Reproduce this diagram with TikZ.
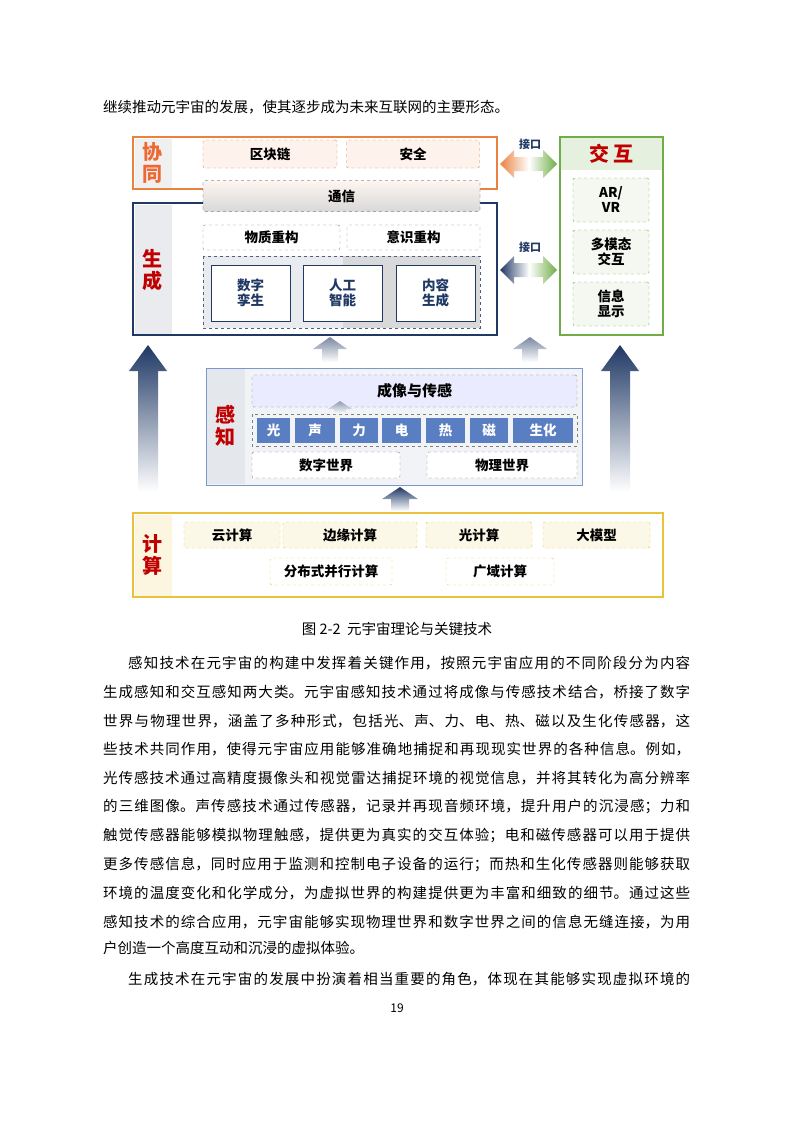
\documentclass[tikz,border=0pt]{standalone}
\usepackage{fontspec}
\setmainfont{Noto Sans CJK SC}
\XeTeXlinebreaklocale "zh"
\XeTeXlinebreakskip=0pt plus 3pt
\usetikzlibrary{positioning}
\definecolor{navy}{HTML}{1F3864}
\definecolor{orng}{HTML}{E9823F}
\definecolor{grn}{HTML}{70AD47}
\definecolor{gold}{HTML}{E8C23A}
\definecolor{cellblue}{HTML}{5A7EC2}
\definecolor{lblred}{HTML}{C00000}
% x, base y, half shaft, half head, head length, tip y, colour
\newcommand{\bigarrow}[7]{\shade[top color=#7, bottom color=white] (#1-#3,#2) -- (#1-#3,#6+#5) -- (#1-#4,#6+#5) -- (#1,#6) -- (#1+#4,#6+#5) -- (#1+#3,#6+#5) -- (#1+#3,#2) -- cycle;}
\tikzset{
  txt/.style={inner sep=0,font=\fontsize{14.5}{16}\selectfont},
  grp/.style={draw=#1,line width=1.4pt,fill=white},
  strip/.style={fill=#1,draw=none},
  glabel/.style={text=lblred,font=\fontsize{20}{22}\selectfont\bfseries,align=center},
  dbox/.style={draw=#1,dashed,rounded corners=2pt,inner sep=0,font=\fontsize{13.5}{15}\selectfont\bfseries,align=center},
  sbox/.style={draw=navy,line width=1pt,fill=white,inner sep=0,minimum width=79pt,minimum height=56pt,font=\fontsize{13.5}{15}\selectfont\bfseries,align=center,text=navy},
  cell/.style={fill=cellblue,inner sep=0,minimum height=25pt,text=white,font=\fontsize{13.5}{15}\selectfont\bfseries},
  klabel/.style={font=\fontsize{11}{12}\selectfont\bfseries,text=navy},
}
\begin{document}
\begin{tikzpicture}[x=1pt,y=-1pt]
\useasboundingbox (0,0) rectangle (793,1122);
\fill[white] (0,0) rectangle (793,1122);

% top text line
\node[txt,anchor=base west] (topline) at (103,112) {继续推动元宇宙的发展，使其逐步成为未来互联网的主要形态。};

% big arrows behind
\bigarrow{148}{492}{10}{19}{26}{345}{navy}
\bigarrow{620}{492}{10}{19}{26}{345}{navy}

% xie tong
\draw[grp=orng] (133,137) rectangle (497,189);
\fill[strip=gray!12] (134.5,138.5) rectangle (172,187.5);
\node[glabel,text=orng!80!red] (xt) at (152,163) {协\\同};
\node[dbox=orng,fill=orng!10,minimum width=134pt,minimum height=28pt] (qkl) at (270,154) {区块链};
\node[dbox=orng,fill=orng!10,minimum width=133pt,minimum height=28pt] (aq) at (413,154) {安全};

% sheng cheng
\draw[grp=navy] (133,203) rectangle (497,335);
\fill[strip=navy!10] (134.5,204.5) rectangle (172,333.5);
\node[glabel] (sc) at (152,270) {生\\成};
\node[dbox=navy,top color=orng!8,bottom color=gray!30,minimum width=277pt,minimum height=31pt] (tx) at (341.5,196) {通信};
\node[dbox=gray,fill=white,minimum width=137pt,minimum height=25pt] (wz) at (271.5,237.5) {物质重构};
\node[dbox=gray,fill=white,minimum width=133pt,minimum height=25pt] (ys) at (413.5,237.5) {意识重构};
\fill[navy!10] (203,256) rectangle (343,328);
\fill[gray!30] (343,256) rectangle (480,328);
\draw[dashed,navy!80] (203,256) rectangle (480,328);
\node[sbox] (szls) at (250.5,293) {数字\\孪生};
\node[sbox] (rgzn) at (342.5,293) {人工\\智能};
\node[sbox] (nrsc) at (435.5,293) {内容\\生成};

% jiao hu
\draw[grp=grn] (560,137) rectangle (663,335);
\fill[grn!18] (561,138) rectangle (662,170);
\node[glabel] (jh) at (611.5,154) {交\,互};
\node[dbox=grn,fill=grn!8,minimum width=76pt,minimum height=44pt] (arvr) at (611,200) {AR/\\VR};
\node[dbox=grn,fill=grn!8,minimum width=76pt,minimum height=44pt] (dmt) at (611,252) {多模态\\交互};
\node[dbox=grn,fill=grn!8,minimum width=76pt,minimum height=44pt] (xxxs) at (611,304) {信息\\显示};

% interfaces
\node[klabel] (jk1) at (530,144) {接口};
\node[klabel] (jk2) at (530,247) {接口};
\shade[left color=orng,right color=white] (500,164) -- (514,150) -- (514,157) -- (529,157) -- (529,171) -- (514,171) -- (514,178) -- cycle;
\shade[left color=white,right color=grn] (529,157) -- (543,157) -- (543,150) -- (557,164) -- (543,178) -- (543,171) -- (529,171) -- cycle;
\shade[left color=navy,right color=white] (500,270) -- (514,256) -- (514,263) -- (529,263) -- (529,277) -- (514,277) -- (514,284) -- cycle;
\shade[left color=white,right color=grn] (529,263) -- (543,263) -- (543,256) -- (557,270) -- (543,284) -- (543,277) -- (529,277) -- cycle;

% small arrows into sheng cheng
\bigarrow{330}{362}{8}{17}{12}{337}{navy!60}
\bigarrow{530}{362}{8}{17}{12}{337}{navy!60}

% gan zhi
\draw[draw=cellblue!80,line width=1pt,fill=navy!6] (206,368) rectangle (582,485);
\fill[strip=navy!12] (207,369) rectangle (245,484);
\node[glabel] (gz) at (225,426) {感\\知};
\node[dbox=gray,fill=blue!8,minimum width=325pt,minimum height=32pt,font=\fontsize{15}{16}\selectfont\bfseries] (cx) at (414.5,391) {成像与传感};
\draw[dashed,gray] (252,414) rectangle (577,446);
\foreach \nm/\lab/\xa/\xb in {g/光/257/290,s/声/295/335,l/力/340/378,d/电/382/421,r/热/426/465,c/磁/470/508,sh/生化/513/573}{
  \node[cell,minimum width=\xb pt-\xa pt] (\nm) at ({(\xa+\xb)/2},430.5) {\lab};
}
\bigarrow{340}{414}{6}{12}{8}{401}{navy!50}
\node[dbox=gray,fill=white,minimum width=148pt,minimum height=26pt] (szsj) at (326,465) {数字世界};
\node[dbox=gray,fill=white,minimum width=150pt,minimum height=26pt] (wlsj) at (502,465) {物理世界};
\bigarrow{400}{511}{9}{18}{12}{487}{navy}

% ji suan
\draw[grp=gold] (133,513) rectangle (663,597);
\fill[strip=gold!15] (134.5,514.5) rectangle (172,595.5);
\node[glabel] (js) at (152,555) {计\\算};
\node[dbox=gold,fill=gold!12,minimum width=96pt,minimum height=26pt] (yjs) at (232,535) {云计算};
\node[dbox=gold,fill=gold!12,minimum width=134pt,minimum height=26pt] (byjs) at (350,535) {边缘计算};
\node[dbox=gold,fill=gold!12,minimum width=106pt,minimum height=26pt] (gjs) at (479,535) {光计算};
\node[dbox=gold,fill=gold!12,minimum width=107pt,minimum height=26pt] (dmx) at (596.5,535) {大模型};
\node[dbox=gold,fill=white,minimum width=122pt,minimum height=27pt] (fbs) at (331,571.5) {分布式并行计算};
\node[dbox=gold,fill=white,minimum width=108pt,minimum height=27pt] (gyjs) at (500,571.5) {广域计算};

% caption and body
\node[txt,anchor=base] (cap) at (397,634) {图 2-2\ \ 元宇宙理论与关键技术};
\node[anchor=base west,inner sep=0] (p1) at (128,666) {\parbox{562pt}{\parfillskip=0pt\fontsize{14.5}{16}\selectfont 感知技术在元宇宙的构建中发挥着关键作用，按照元宇宙应用的不同阶段分为内容}};
\node[anchor=base west,inner sep=0] (p2) at (103,694.7) {\parbox{587pt}{\parfillskip=0pt\fontsize{14.5}{16}\selectfont 生成感知和交互感知两大类。元宇宙感知技术通过将成像与传感技术结合，桥接了数字}};
\node[anchor=base west,inner sep=0] (p3) at (103,723.4) {\parbox{587pt}{\parfillskip=0pt\fontsize{14.5}{16}\selectfont 世界与物理世界，涵盖了多种形式，包括光、声、力、电、热、磁以及生化传感器，这}};
\node[anchor=base west,inner sep=0] (p4) at (103,752.1) {\parbox{587pt}{\parfillskip=0pt\fontsize{14.5}{16}\selectfont 些技术共同作用，使得元宇宙应用能够准确地捕捉和再现现实世界的各种信息。例如，}};
\node[anchor=base west,inner sep=0] (p5) at (103,780.8) {\parbox{587pt}{\parfillskip=0pt\fontsize{14.5}{16}\selectfont 光传感技术通过高精度摄像头和视觉雷达捕捉环境的视觉信息，并将其转化为高分辨率}};
\node[anchor=base west,inner sep=0] (p6) at (103,809.5) {\parbox{587pt}{\parfillskip=0pt\fontsize{14.5}{16}\selectfont 的三维图像。声传感技术通过传感器，记录并再现音频环境，提升用户的沉浸感；力和}};
\node[anchor=base west,inner sep=0] (p7) at (103,838.2) {\parbox{587pt}{\parfillskip=0pt\fontsize{14.5}{16}\selectfont 触觉传感器能够模拟物理触感，提供更为真实的交互体验；电和磁传感器可以用于提供}};
\node[anchor=base west,inner sep=0] (p8) at (103,866.9) {\parbox{587pt}{\parfillskip=0pt\fontsize{14.5}{16}\selectfont 更多传感信息，同时应用于监测和控制电子设备的运行；而热和生化传感器则能够获取}};
\node[anchor=base west,inner sep=0] (p9) at (103,895.6) {\parbox{587pt}{\parfillskip=0pt\fontsize{14.5}{16}\selectfont 环境的温度变化和化学成分，为虚拟世界的构建提供更为丰富和细致的细节。通过这些}};
\node[anchor=base west,inner sep=0] (p10) at (103,924.3) {\parbox{587pt}{\parfillskip=0pt\fontsize{14.5}{16}\selectfont 感知技术的综合应用，元宇宙能够实现物理世界和数字世界之间的信息无缝连接，为用}};
\node[txt,anchor=base west] (p11) at (103,953) {户创造一个高度互动和沉浸的虚拟体验。};
\node[anchor=base west,inner sep=0] (p12) at (128,981.7) {\parbox{562pt}{\parfillskip=0pt\fontsize{14.5}{16}\selectfont 生成技术在元宇宙的发展中扮演着相当重要的角色，体现在其能够实现虚拟环境的}};
\node[txt,anchor=base,font=\fontsize{12}{14}\selectfont] (pg) at (397,1012) {19};
\end{tikzpicture}
\end{document}
